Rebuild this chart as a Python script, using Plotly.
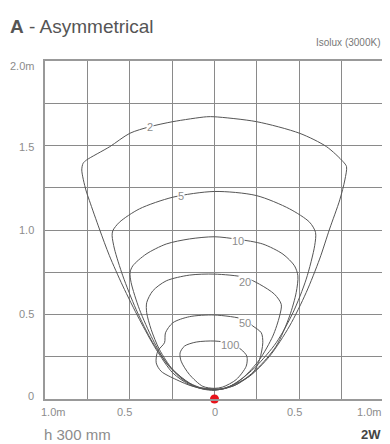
import plotly.graph_objects as go

# isolux curves (lux level -> closed outline, metres)
iso_2_x = [0.0, -0.069, -0.148, -0.246, -0.344, -0.443, -0.541, -0.62, -0.679, -0.738, -0.759, -0.783, -0.775,
           -0.755, -0.618, -0.5, -0.382, -0.246, -0.047, 0.0, 0.248, 0.503, 0.661, 0.759, 0.779, 0.769, 0.739,
           0.679, 0.62, 0.541, 0.443, 0.325, 0.207, 0.089, 0.0]
iso_2_y = [0.051, 0.059, 0.085, 0.154, 0.293, 0.471, 0.669, 0.848, 1.006, 1.174, 1.237, 1.355, 1.395,
           1.414, 1.493, 1.572, 1.611, 1.641, 1.67, 1.67, 1.641, 1.572, 1.493, 1.404, 1.375, 1.296, 1.178,
           1.006, 0.828, 0.63, 0.432, 0.253, 0.135, 0.075, 0.051]

iso_5_x = [0.0, -0.089, -0.167, -0.266, -0.364, -0.463, -0.541, -0.59, -0.604, -0.6, -0.561, -0.443, -0.246,
           0.0, 0.246, 0.443, 0.561, 0.596, 0.591, 0.541, 0.463, 0.364, 0.246, 0.128, 0.049, 0.0]
iso_5_y = [0.055, 0.065, 0.105, 0.194, 0.333, 0.531, 0.729, 0.887, 0.966, 0.996, 1.046, 1.125, 1.194,
           1.228, 1.204, 1.125, 1.046, 0.986, 0.907, 0.709, 0.511, 0.333, 0.194, 0.095, 0.059, 0.055]

iso_10_x = [0.0, -0.089, -0.187, -0.285, -0.364, -0.443, -0.492, -0.498, -0.482, -0.404, -0.285, -0.148, 0.0,
            0.138, 0.285, 0.404, 0.472, 0.492, 0.482, 0.443, 0.364, 0.246, 0.128, 0.049, 0.0]
iso_10_y = [0.055, 0.065, 0.115, 0.214, 0.352, 0.531, 0.689, 0.749, 0.788, 0.857, 0.917, 0.947, 0.96,
            0.945, 0.917, 0.857, 0.788, 0.729, 0.63, 0.491, 0.313, 0.174, 0.085, 0.059, 0.055]

iso_20_x = [0.0, -0.069, -0.148, -0.246, -0.325, -0.374, -0.4, -0.4, -0.364, -0.285, -0.148, 0.0,
            0.177, 0.266, 0.354, 0.394, 0.384, 0.344, 0.266, 0.167, 0.069, 0.0]
iso_20_y = [0.058, 0.063, 0.095, 0.174, 0.293, 0.412, 0.511, 0.57, 0.64, 0.699, 0.733, 0.739,
            0.72, 0.679, 0.62, 0.56, 0.491, 0.372, 0.234, 0.125, 0.065, 0.058]

iso_50_x = [0.0, -0.128, -0.226, -0.315, -0.344, -0.335, -0.295, -0.289, -0.246, -0.148, 0.0,
            0.177, 0.226, 0.276, 0.285, 0.266, 0.226, 0.128, 0.049, 0.0]
iso_50_y = [0.059, 0.075, 0.115, 0.164, 0.214, 0.283, 0.333, 0.392, 0.451, 0.487, 0.497,
            0.47, 0.432, 0.392, 0.333, 0.234, 0.154, 0.085, 0.061, 0.059]

iso_100_x = [0.0, -0.069, -0.148, -0.197, -0.203, -0.177, -0.108, 0.0, 0.089, 0.157, 0.191, 0.187,
             0.128, 0.049, 0.0]
iso_100_y = [0.063, 0.075, 0.145, 0.224, 0.273, 0.313, 0.337, 0.343, 0.33, 0.293, 0.253, 0.194,
             0.115, 0.071, 0.063]

curves = [(iso_2_x, iso_2_y), (iso_5_x, iso_5_y), (iso_10_x, iso_10_y),
          (iso_20_x, iso_20_y), (iso_50_x, iso_50_y), (iso_100_x, iso_100_y)]

# inline labels
label_text = ["2", "5", "10", "20", "50", "100"]
label_x = [-0.382, -0.197, 0.138, 0.177, 0.177, 0.089]
label_y = [1.611, 1.204, 0.937, 0.693, 0.448, 0.317]

x_ticks = [-1.0, -0.5, 0.0, 0.5, 1.0]
x_ticktext = ["1.0m", "0.5", "0", "0.5", "1.0m"]
y_ticks = [0.0, 0.5, 1.0, 1.5, 2.0]
y_ticktext = ["0", "0.5", "1.0", "1.5", "2.0m"]

FONT = "Liberation Sans, Arial, sans-serif"
GREY = "#8c8c8c"

fig = go.Figure()
for cx, cy in curves:
    fig.add_trace(go.Scatter(x=cx, y=cy, mode="lines",
                             line=dict(color="#555555", width=1, shape="spline", smoothing=0.8),
                             hoverinfo="skip", showlegend=False))

# light source
fig.add_trace(go.Scatter(x=[0], y=[0], mode="markers", marker=dict(color="#e8141c", size=9),
                         cliponaxis=False, showlegend=False, hoverinfo="skip"))

for t, lx, ly in zip(label_text, label_x, label_y):
    fig.add_annotation(x=lx, y=ly, text=t, showarrow=False, bgcolor="white", borderpad=0,
                       font=dict(family=FONT, size=11, color=GREY))

# tick labels placed by hand, the reference nudges them a little
x_anchor = ["center", "center", "center", "center", "right"]
x_shift = [8, -5, 0, -5, -1]
for v, t, a, s in zip(x_ticks, x_ticktext, x_anchor, x_shift):
    fig.add_annotation(x=v, y=0, yref="y", text=t, showarrow=False, xanchor=a, xshift=s, yshift=-13,
                       font=dict(family=FONT, size=11, color=GREY))
y_shift = [3, 1, 0, -1, -5]
for v, t, s in zip(y_ticks, y_ticktext, y_shift):
    fig.add_annotation(x=0, xref="paper", y=v, text=t, showarrow=False, xanchor="right",
                       xshift=-9, yshift=s, font=dict(family=FONT, size=11, color=GREY))

# page body has an 8px margin, so the figure is 8px smaller on each side
fig.add_annotation(text="<b>A</b> - Asymmetrical", x=0, xref="paper", xanchor="left", xshift=-37,
                   y=1, yref="paper", yanchor="middle", yshift=35, showarrow=False,
                   font=dict(family=FONT, size=19, color="#555555"))
fig.add_annotation(text="Isolux (3000K)", x=1, xref="paper", xanchor="right", xshift=-2,
                   y=1, yref="paper", yanchor="middle", yshift=19, showarrow=False,
                   font=dict(family=FONT, size=10, color="#777777"))
fig.add_annotation(text="h 300 mm", x=0, xref="paper", xanchor="left", xshift=-3,
                   y=0, yref="paper", yanchor="middle", yshift=-35, showarrow=False,
                   font=dict(family=FONT, size=15, color=GREY))
fig.add_annotation(text="<b>2W</b>", x=1, xref="paper", xanchor="right", xshift=-1,
                   y=0, yref="paper", yanchor="middle", yshift=-35, showarrow=False,
                   font=dict(family=FONT, size=13, color="#444444"))

fig.update_layout(
    width=382, height=436,
    margin=dict(l=37, r=6, t=53, b=45, autoexpand=False),
    paper_bgcolor="white", plot_bgcolor="white",
    showlegend=False,
)
fig.update_xaxes(range=[-1, 1], dtick=0.25, tick0=0, showgrid=True, gridcolor="#8a8a8a", gridwidth=1,
                 zeroline=False, showticklabels=False, showline=True, linecolor="#999999",
                 linewidth=1.5, mirror=True, fixedrange=True)
fig.update_yaxes(range=[0, 2], dtick=0.25, tick0=0, showgrid=True, gridcolor="#8a8a8a", gridwidth=1,
                 zeroline=False, showticklabels=False, showline=True, linecolor="#999999",
                 linewidth=1.5, mirror=True, fixedrange=True)

fig.write_html("out.html")
